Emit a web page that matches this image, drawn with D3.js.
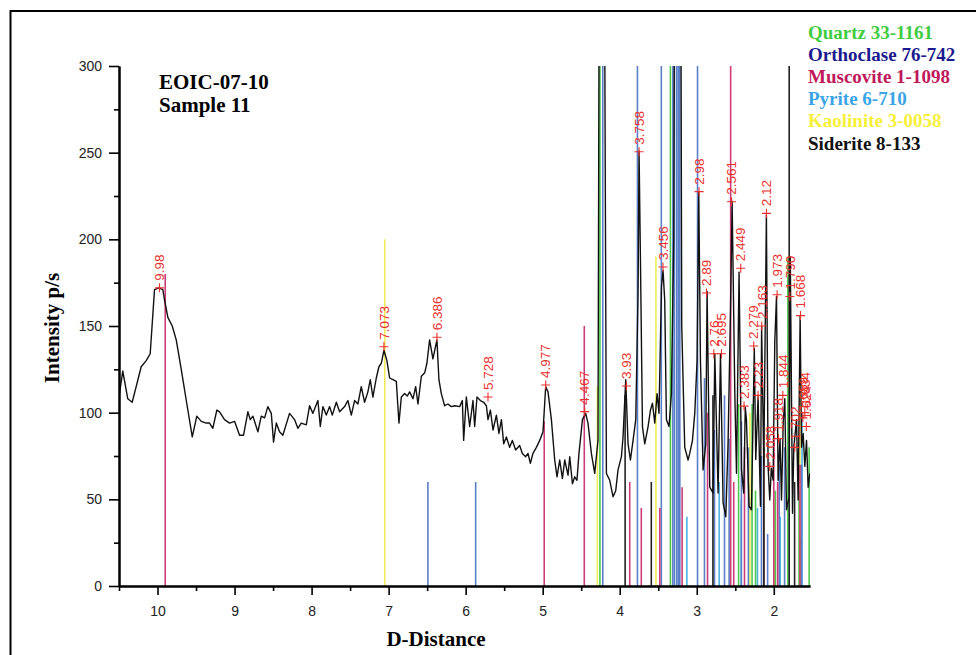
<!DOCTYPE html>
<html>
<head>
<meta charset="utf-8">
<script src="https://cdn.jsdelivr.net/npm/d3@7"></script>
<style>
  body { margin: 0; background: #fff; }
  svg { display: block; }
</style>
</head>
<body>
<svg id="chart" width="976" height="655"></svg>
<script>
// measured pattern: [d-spacing, intensity]
var trace = [
  [10.494,111],[10.451,124],[10.386,108],[10.329,106],[10.277,115],[10.212,126.5],[10.147,130],[10.095,134],
  [10.039,171],[9.983,172],[9.931,171],[9.909,165],[9.866,155],[9.809,150],[9.757,142],[9.692,125],[9.619,105],
  [9.549,86],[9.490,98],[9.432,95],[9.368,94],[9.325,94],[9.282,91],[9.230,101.5],[9.195,100.5],[9.130,96],
  [9.065,94],[9.000,95],[8.935,87],[8.883,87],[8.827,100.5],[8.796,96],[8.762,98],[8.697,89],[8.653,98],
  [8.610,97],[8.568,103.5],[8.523,99.6],[8.494,83],[8.458,94],[8.416,89],[8.373,87],[8.286,99.6],[8.221,96],
  [8.178,91],[8.134,94],[8.069,93],[8.026,104],[7.983,99.6],[7.918,107],[7.887,92],[7.853,103.5],[7.809,98.6],
  [7.766,103.5],[7.731,98.6],[7.679,106],[7.636,100.5],[7.571,103.5],[7.529,107],[7.484,98.6],[7.442,107],
  [7.399,105],[7.355,115],[7.312,106],[7.269,112],[7.238,119],[7.204,109],[7.160,120],[7.126,126.5],
  [7.095,128.5],[7.061,136],[7.022,130],[6.987,120],[6.944,119],[6.900,118],[6.866,94],[6.835,109],[6.792,111],
  [6.757,109.6],[6.727,112],[6.684,108],[6.649,115],[6.619,105],[6.575,121],[6.532,123],[6.503,128.5],
  [6.468,142],[6.425,131],[6.373,142],[6.347,119],[6.316,111],[6.273,104],[6.230,105],[6.186,103.5],
  [6.143,104],[6.078,103.5],[6.043,107],[6.026,84],[5.991,109],[5.948,92],[5.905,107],[5.883,92],[5.853,109],
  [5.809,107],[5.766,106],[5.731,104],[5.710,96],[5.679,101.5],[5.645,90],[5.601,98.6],[5.568,88],[5.536,96],
  [5.506,82],[5.471,86],[5.429,80],[5.394,84],[5.351,78.5],[5.299,81],[5.264,76.5],[5.221,74.6],[5.191,76.5],
  [5.160,70.8],[5.126,76.5],[5.082,80],[5.039,84],[4.996,89],[4.961,115],[4.931,112],[4.887,96],[4.844,72.7],
  [4.814,63],[4.779,72.7],[4.744,62],[4.714,72.7],[4.671,64],[4.649,74.6],[4.614,59],[4.584,63],[4.555,61],
  [4.529,76.5],[4.484,96],[4.442,99.6],[4.412,94],[4.368,76.5],[4.325,65],[4.282,84],[4.255,560],[4.215,560],
  [4.173,65],[4.130,61],[4.087,51.5],[4.052,55],[4.022,67],[3.978,74.6],[3.957,86],[3.922,119],[3.892,82],
  [3.861,72.7],[3.827,84],[3.792,96],[3.762,169],[3.749,251],[3.731,188],[3.705,92],[3.675,82],[3.632,92],
  [3.601,101.5],[3.575,105.4],[3.545,94],[3.515,111],[3.490,99.6],[3.458,172.7],[3.438,182],[3.416,165],
  [3.394,96],[3.360,92],[3.329,111],[3.299,200],[3.273,600],[3.221,600],[3.195,150],[3.156,80],[3.113,72.7],
  [3.091,76.5],[3.056,84],[3.026,99.6],[2.996,130],[2.974,227],[2.952,130],[2.918,67],[2.883,82],[2.866,170],
  [2.831,57],[2.788,53.6],[2.766,134],[2.723,53.6],[2.692,134],[2.658,48],[2.623,40],[2.594,82],[2.562,159],
  [2.541,222],[2.506,111],[2.484,65],[2.451,181],[2.419,67],[2.390,53.6],[2.370,103],[2.355,96],[2.321,46],
  [2.290,44],[2.253,137],[2.234,73],[2.204,109],[2.173,46],[2.158,150],[2.130,70],[2.096,214],[2.074,69],
  [2.052,49.6],[2.032,68],[2.009,61],[1.987,141],[1.965,167],[1.944,61],[1.919,85],[1.900,49.6],[1.877,95],
  [1.857,108],[1.835,44],[1.801,51.5],[1.786,190],[1.757,42],[1.740,80],[1.705,96],[1.684,49.6],[1.658,156],
  [1.640,80],[1.619,88],[1.597,69],[1.575,84],[1.554,57],[1.532,65]
];

// reference stick patterns: [d-spacing, height]
var quartzSticks = [[4.257,300],[3.342,300],[2.457,105],[2.282,105],[2.237,55],[2.127,80],[1.980,55],
  [1.817,190],[1.672,55],[1.659,28],[1.541,80]];
var orthoclaseSticks = [[6.49,60],[5.87,60],[4.22,300],[3.77,300],[3.46,300],[3.31,300],[3.29,300],[3.26,300],
  [3.24,300],[3.22,300],[2.99,300],[2.90,120],[2.77,90],[2.64,110],[2.58,85],[2.42,95],[2.33,80],[2.16,75],
  [2.08,30],[1.93,70],[1.86,80],[1.64,70]];
var muscoviteSticks = [[9.9,180],[4.98,95],[4.46,150],[3.87,60],[3.72,45],[3.48,45],[3.19,57],[2.86,100],
  [2.56,300],[2.52,60],[2.38,80],[2.13,90],[2.00,85],[1.95,60],[1.66,70]];
var pyriteSticks = [[3.128,40],[2.709,60],[2.423,50],[2.212,45],[1.916,40],[1.633,100]];
var kaoliniteSticks = [[7.05,200],[4.29,115],[3.53,190],[2.31,100],[1.99,50],[1.66,120]];
var sideriteSticks = [[3.93,110],[3.59,60],[2.79,110],[2.13,80],[1.80,300],[1.73,60]];

var mineralNames = ["Quartz 33-1161", "Orthoclase 76-742", "Muscovite 1-1098", "Pyrite 6-710", "Kaolinite 3-0058", "Siderite 8-133"];
var legendColors = ["#3fcc3f", "#1b1b8f", "#c0185a", "#3aa4e6", "#f6f03a", "#111111"];
var stickColors = ["#4cc94c", "#5b7fc8", "#cc3c78", "#4cb3e3", "#f0ec5a", "#222222"];
var stickSets = [quartzSticks, orthoclaseSticks, muscoviteSticks, pyriteSticks, kaoliniteSticks, sideriteSticks];
var drawOrder = [4, 3, 1, 0, 2, 5];

// labelled peaks
var peakText = ["9.98","7.073","6.386","5.728","4.977","4.467","3.93","3.758","3.456","2.98","2.89","2.76","2.695",
  "2.561","2.449","2.383","2.279","2.23","2.163","2.12","2.058","1.973","1.918","1.844","1.790","1.702","1.668",
  "1.659","1.634","1.624"];
var peakD = [9.974,7.061,6.373,5.710,4.961,4.455,3.913,3.749,3.438,2.970,2.874,2.779,2.679,2.549,2.429,2.386,
  2.260,2.204,2.156,2.095,2.052,1.957,1.938,1.883,1.792,1.727,1.653,1.623,1.597,1.578];
var peakI = [172,138,143.5,109,116,100.6,115.4,250.5,184,227.5,169,134,134,221.7,183.3,103.8,138.5,110,150,215,
  69,168,85,110,167,80,156,97,100,92];

var xMajor = [10, 9, 8, 7, 6, 5, 4, 3, 2];
var xMinor = [10.5, 9.5, 8.5, 7.5, 6.5, 5.5, 4.5, 3.5, 2.5];
var yMajor = [0, 50, 100, 150, 200, 250, 300];
var yMinor = [25, 75, 125, 175, 225, 275];

var svg = d3.select("#chart");
var sans = "'Liberation Sans', Arial, sans-serif";
var serif = "'Liberation Serif', 'Times New Roman', serif";

var x = d3.scaleLinear().domain([10.5, 1.53]).range([119, 810]);
var y = d3.scaleLinear().domain([0, 300]).range([586, 66]);

// frame
svg.append("rect")
  .attr("x", 10.5).attr("y", 11).attr("width", 1000).attr("height", 1000)
  .attr("fill", "none").attr("stroke", "#000").attr("stroke-width", 2);

svg.append("clipPath").attr("id", "plotclip")
  .append("rect").attr("x", 119).attr("y", 66).attr("width", 691).attr("height", 520);

var plot = svg.append("g").attr("clip-path", "url(#plotclip)");

// sticks
drawOrder.forEach(function(k) {
  plot.append("g").selectAll("line")
    .data(stickSets[k])
    .join("line")
    .attr("x1", function(d) { return x(d[0]); })
    .attr("x2", function(d) { return x(d[0]); })
    .attr("y1", y(0))
    .attr("y2", function(d) { return y(Math.min(d[1], 300)); })
    .attr("stroke", stickColors[k])
    .attr("stroke-width", 1.6);
});

// pattern
var line = d3.line().x(function(d) { return x(d[0]); }).y(function(d) { return y(d[1]); });
plot.append("path")
  .datum(trace)
  .attr("d", line)
  .attr("fill", "none")
  .attr("stroke", "#111")
  .attr("stroke-width", 1.4)
  .attr("stroke-linejoin", "round");

// peak markers
var peaks = svg.append("g").selectAll("g")
  .data(peakText)
  .join("g")
  .attr("transform", function(t, i) { return "translate(" + x(peakD[i]) + "," + y(peakI[i]) + ")"; });
peaks.append("path")
  .attr("d", "M-4.5,0H4.5M0,-4.5V4.5")
  .attr("stroke", "#e8302c").attr("stroke-width", 1.1);
peaks.append("text")
  .attr("transform", "translate(0,-7) rotate(-90)")
  .attr("dy", "0.35em")
  .attr("font-family", sans).attr("font-size", 13.5)
  .attr("fill", "#e8302c")
  .text(function(t) { return t; });

// axes
function styleAxis(g) {
  g.select(".domain").attr("stroke", "#000").attr("stroke-width", 2);
  g.selectAll(".tick line").attr("stroke", "#000").attr("stroke-width", 1.6);
  g.selectAll(".tick text").attr("font-family", sans).attr("font-size", 14).attr("fill", "#222");
}

svg.append("g").attr("transform", "translate(0,586)")
  .call(d3.axisBottom(x).tickValues(xMinor).tickSize(5).tickSizeOuter(0).tickFormat(""))
  .call(styleAxis);
svg.append("g").attr("transform", "translate(0,586)")
  .call(d3.axisBottom(x).tickValues(xMajor).tickSize(9).tickSizeOuter(0).tickPadding(11).tickFormat(d3.format("d")))
  .call(styleAxis);

svg.append("g").attr("transform", "translate(119,0)")
  .call(d3.axisLeft(y).tickValues(yMinor).tickSize(5).tickSizeOuter(0).tickFormat(""))
  .call(styleAxis);
svg.append("g").attr("transform", "translate(119,0)")
  .call(d3.axisLeft(y).tickValues(yMajor).tickSize(10).tickSizeOuter(0).tickPadding(7))
  .call(styleAxis);

// titles
svg.append("text")
  .attr("transform", "translate(59,328) rotate(-90)")
  .attr("text-anchor", "middle")
  .attr("font-family", serif).attr("font-weight", "bold").attr("font-size", 21)
  .text("Intensity p/s");
svg.append("text")
  .attr("x", 436).attr("y", 646)
  .attr("text-anchor", "middle")
  .attr("font-family", serif).attr("font-weight", "bold").attr("font-size", 21)
  .text("D-Distance");

svg.append("text").attr("x", 159).attr("y", 89)
  .attr("font-family", serif).attr("font-weight", "bold").attr("font-size", 21)
  .text("EOIC-07-10");
svg.append("text").attr("x", 159).attr("y", 111.5)
  .attr("font-family", serif).attr("font-weight", "bold").attr("font-size", 21)
  .text("Sample 11");

// legend
svg.append("g").selectAll("text")
  .data(mineralNames)
  .join("text")
  .attr("x", 808)
  .attr("y", function(d, i) { return 38.5 + i * 22.2; })
  .attr("font-family", serif).attr("font-weight", "bold").attr("font-size", 19)
  .attr("fill", function(d, i) { return legendColors[i]; })
  .text(function(d) { return d; });
</script>
</body>
</html>
